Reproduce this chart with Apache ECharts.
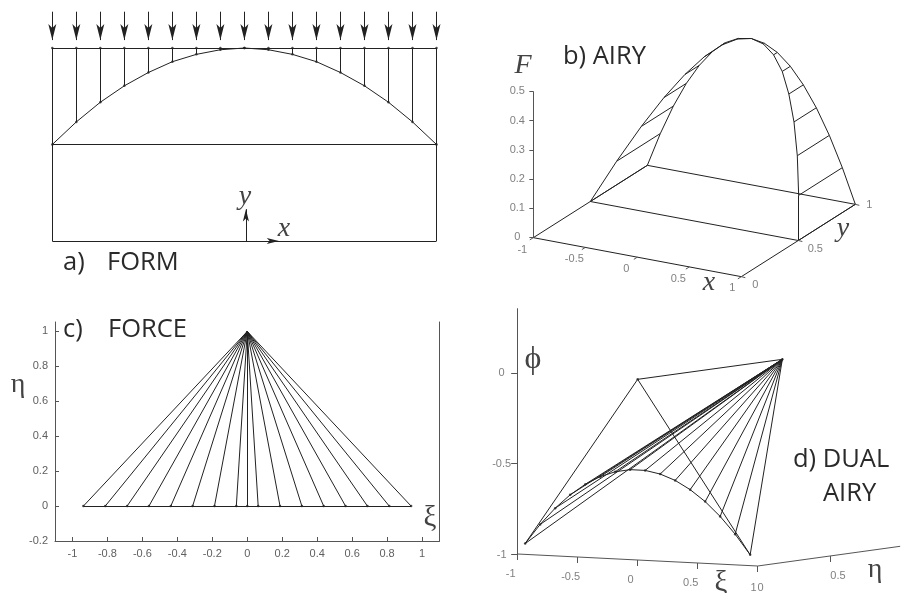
<!DOCTYPE html>
<html><head><meta charset="utf-8">
<style>html,body{margin:0;padding:0;background:#fff}#c{width:901px;height:593px}</style>
<script src="https://cdn.jsdelivr.net/npm/echarts@6/dist/echarts.min.js"></script>
</head><body><div id="c"></div>
<script>
// ---- data ----
const formX = [-1,-0.875,-0.75,-0.625,-0.5,-0.375,-0.25,-0.125,0,0.125,0.25,0.375,0.5,0.625,0.75,0.875,1];
const cableY = [0.5,0.617,0.719,0.804,0.873,0.929,0.967,0.991,1,0.991,0.967,0.929,0.873,0.804,0.719,0.617,0.5];
const airyF = [0,0.117,0.219,0.305,0.375,0.43,0.469,0.492,0.5,0.492,0.469,0.43,0.375,0.305,0.219,0.117,0];
const forceXi = [-0.9375,-0.8125,-0.6875,-0.5625,-0.4375,-0.3125,-0.1875,-0.0625,0,0.0625,0.1875,0.3125,0.4375,0.5625,0.6875,0.8125,0.9375];
const dualXi = [-0.9375,-0.8125,-0.6875,-0.5625,-0.4375,-0.3125,-0.1875,-0.0625,0.0625,0.1875,0.3125,0.4375,0.5625,0.6875,0.8125,0.9375];
const dualPhi = [-0.94,-0.83,-0.736,-0.658,-0.596,-0.549,-0.518,-0.502,-0.502,-0.518,-0.549,-0.596,-0.658,-0.736,-0.83,-0.94];
const forceXTicks = [-1,-0.8,-0.6,-0.4,-0.2,0,0.2,0.4,0.6,0.8,1];
const forceYTicks = [-0.2,0,0.2,0.4,0.6,0.8,1];
const airyXTicks = [-1,-0.5,0,0.5,1];
const airyYTicks = [0,0.5,1];
const airyFTicks = [0,0.1,0.2,0.3,0.4,0.5];
const dualXiTicks = [-1,-0.5,0,0.5,1];
const dualEtaTicks = [0,0.5];
const dualPhiTicks = [-1,-0.5,0];

// ---- style ----
const INK='#222', AX='#555', TICK='#5f5f5f';
// narrow barbed head: tip sits at the centre of the symbol box, the two stray points only stretch the box
const HEAD='path://M0 0L0.01 0M40 40L39.99 40M20 20L24.7 38.8L20 34.3L15.3 38.8Z';
const series=[];
function segs(g,list,color,width){
  series.push({type:'lines',coordinateSystem:'cartesian2d',xAxisIndex:g,yAxisIndex:g,polyline:false,silent:true,clip:false,animation:false,
    lineStyle:{color:color||INK,width:width||1,opacity:1,curveness:0},
    data:list.map(c=>({coords:c}))});
}
function arrows(g,list,size){
  series.push({type:'lines',coordinateSystem:'cartesian2d',xAxisIndex:g,yAxisIndex:g,silent:true,clip:false,animation:false,
    symbol:['none',HEAD],symbolSize:size,
    lineStyle:{color:INK,width:1,opacity:1},data:list.map(c=>({coords:c}))});
}
function dots(g,pts,size){
  series.push({type:'scatter',xAxisIndex:g,yAxisIndex:g,silent:true,animation:false,clip:false,symbol:'circle',symbolSize:size||2.5,
    itemStyle:{color:INK},data:pts});
}
function tickLabels(g,items,align){
  series.push({type:'scatter',xAxisIndex:g,yAxisIndex:g,silent:true,animation:false,clip:false,symbolSize:1,
    itemStyle:{color:'transparent'},
    data:items.map(it=>({value:it.p,label:{show:true,position:'inside',formatter:String(it.t),offset:it.o,align:align||'center',verticalAlign:'middle',
      color:TICK,fontSize:11,fontFamily:'"Liberation Sans",Arial,sans-serif'}}))});
}
const pairs=(a,b)=>a.map((v,i)=>[v,b[i]]);
const chain=p=>p.slice(1).map((q,i)=>[p[i],q]);

// ---- a) FORM ----
const cablePts=pairs(formX,cableY);
const ARROW_TOP=1.188, ARROW_TIP=1.041;
segs(0,[[[-1,0],[1,0]],[[-1,0],[-1,1]],[[1,0],[1,1]],[[-1,1],[1,1]],[[-1,0.5],[1,0.5]]]);
segs(0,formX.map((x,i)=>[[x,cableY[i]],[x,1]]));
segs(0,chain(cablePts));
dots(0,cablePts);
dots(0,formX.map(x=>[x,1]));
arrows(0,formX.map(x=>[[x,ARROW_TOP],[x,ARROW_TIP]]),34);
arrows(0,[[[0.008,0],[0.008,0.165]],[[0.008,0],[0.18,0]]],26);

// ---- b) AIRY : fixed view of (x,y,F) ----
const pb=(x,y,F)=>[(160+(x+1)*312+y*342)/3,(653+(x+1)*58.5+y*-217+F*-878)/3];
const top3=formX.map((x,i)=>pb(x,1,airyF[i]));
const cab3=formX.map((x,i)=>pb(x,cableY[i],airyF[i]));
segs(1,chain(top3)); segs(1,chain(cab3));
segs(1,formX.map((x,i)=>[cab3[i],top3[i]]));
segs(1,[[pb(-1,0,0),pb(1,0,0)],[pb(1,0,0),pb(1,1,0)],[pb(-1,0,0),pb(-1,1,0)],[pb(-1,0.5,0),pb(1,0.5,0)],[pb(-1,1,0),pb(1,1,0)]]);
segs(1,[[pb(-1,0,0),pb(-1,0,0.5)]],AX);
segs(1,airyFTicks.map(F=>{const p=pb(-1,0,F);return [p,[p[0]-4,p[1]]];}),AX);
segs(1,airyXTicks.map(x=>{const p=pb(x,0,0);return [p,[p[0]-3.5,p[1]+2.2]];}),AX);
segs(1,airyYTicks.map(y=>{const p=pb(1,y,0);return [p,[p[0]+4,p[1]+1]];}),AX);
tickLabels(1,airyFTicks.map(F=>({p:pb(-1,0,F),t:F,o:[-16,F===0?-1:0]})));
tickLabels(1,airyXTicks.map(x=>({p:pb(x,0,0),t:x,o:x===1?[-9,11]:[-11,12]})));
tickLabels(1,airyYTicks.map(y=>({p:pb(1,y,0),t:y,o:y===1?[14,1]:[y===0?14:17,8]})));

// ---- c) FORCE ----
const APEX=[0,1];
segs(2,forceXi.map(x=>[[x,0],APEX]));
segs(2,[[[forceXi[0],0],[forceXi[16],0]]]);
dots(2,forceXi.map(x=>[x,0]));

// ---- d) DUAL AIRY : fixed view of (xi,eta,phi) ----
const pd=(k,e,f)=>[(113+(k+1)*360+e*434)/3,(747+(k+1)*18+e*-60+(f+1)*-542)/3];
const dualPts=dualXi.map((k,i)=>pd(k,0,dualPhi[i]));
const apexD=pd(0,1,0), topD=pd(0,0,0), endL=dualPts[0], endR=dualPts[15];
segs(3,chain(dualPts));
segs(3,dualPts.map(p=>[p,apexD]));
segs(3,[[topD,apexD],[topD,endL],[topD,endR]]);
dots(3,dualPts.concat([apexD,topD]));
segs(3,[[pd(-1,0,-1),pd(-1,0,0.36)],[pd(-1,0,-1),pd(1,0,-1)],[pd(1,0,-1),pd(1,0.985,-1)]],AX);
segs(3,dualPhiTicks.map(f=>{const p=pd(-1,0,f);return [p,[p[0]-6.5,p[1]]];}),AX);
segs(3,dualXiTicks.map(k=>{const p=pd(k,0,-1);return [p,[p[0],p[1]+6]];}),AX);
segs(3,dualEtaTicks.map(e=>{const p=pd(1,e,-1);return [p,[p[0],p[1]+6]];}),AX);
tickLabels(3,dualPhiTicks.map(f=>({p:pd(-1,0,f),t:f,o:[-16,f===-1?1:0]})));
tickLabels(3,dualXiTicks.map(k=>({p:pd(k,0,-1),t:k,o:[k===1?-4:-7,k===1?22:20]})));
tickLabels(3,dualEtaTicks.map(e=>({p:pd(1,e,-1),t:e,o:[e===0?3:8,e===0?22:20]})));

// ---- text ----
const SANS='"Open Sans","Noto Sans",sans-serif', SERIF='"Liberation Serif",serif';
const titleText=[['a)',63,263],['FORM',107,263],['b) AIRY',563,57],['c)',63,330],['FORCE',108,330],['d) DUAL',793,460],['AIRY',823,494]];
const mathText=[['y',245,197,true,28],['x',284,229,true,28],['F',523,66,true,28],['x',709,283,true,28],['y',843,229,true,28],['η',18,385,false,28],['ξ',430,518,false,29],['ϕ',533,360,false,32],['η',875,570,false,28],['ξ',721,583,false,29]];
const graphics=titleText.map(t=>({type:'text',x:t[1],y:t[2],silent:true,style:{text:t[0],fontFamily:SANS,fontSize:25.5,fill:'#2a2a2a',verticalAlign:'middle'}}))
 .concat(mathText.map(t=>({type:'text',x:t[1],y:t[2],silent:true,style:{text:t[0],fontFamily:SERIF,fontStyle:t[3]?'italic':'normal',fontSize:t[4],fill:'#444',align:'center',verticalAlign:'middle'}})));

const hiddenX=(min,max,g)=>({type:'value',gridIndex:g,min,max,show:false});
const hiddenY=(min,max,g,inv)=>({type:'value',gridIndex:g,min,max,show:false,inverse:!!inv});
const axisFont={color:TICK,fontSize:11,fontFamily:'"Liberation Sans",Arial,sans-serif',margin:7};
const option={
  backgroundColor:'#fff',animation:false,
  grid:[
    {left:52.3,top:9.4,width:384.2,height:231.6},
    {left:480,top:20,width:420,height:280},
    {left:55,top:322,width:384.5,height:219},
    {left:480,top:305,width:420,height:288}
  ],
  xAxis:[hiddenX(-1,1,0),hiddenX(0,420,1),
    {type:'value',gridIndex:2,min:-1.1,max:1.1,splitLine:{show:false},
     axisLine:{onZero:false,lineStyle:{color:AX}},
     axisTick:{inside:true,length:4,customValues:forceXTicks,lineStyle:{color:AX}},
     axisLabel:Object.assign({customValues:forceXTicks,formatter:v=>String(v)},axisFont)},
    hiddenX(0,420,3)],
  yAxis:[hiddenY(0,1.2,0),hiddenY(0,280,1,true),
    {type:'value',gridIndex:2,min:-0.2,max:1.054,splitLine:{show:false},
     axisLine:{onZero:false,lineStyle:{color:AX}},
     axisTick:{inside:true,length:4,customValues:forceYTicks,lineStyle:{color:AX}},
     axisLabel:Object.assign({customValues:forceYTicks,formatter:v=>String(v)},axisFont)},
    hiddenY(0,288,3,true),
    {type:'value',gridIndex:2,position:'right',min:-0.2,max:1.054,splitLine:{show:false},
     axisLine:{show:true,onZero:false,lineStyle:{color:AX}},axisTick:{show:false},axisLabel:{show:false}}],
  series,
  graphic:{elements:graphics}
};
const chart=echarts.init(document.getElementById('c'),null,{width:901,height:593});
chart.setOption(option);
</script></body></html>
